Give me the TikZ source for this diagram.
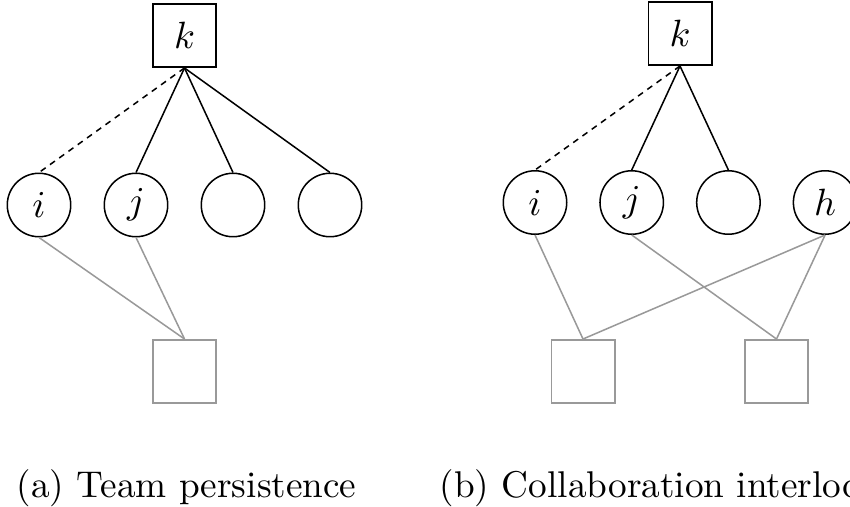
\documentclass[tikz,border=0pt]{standalone}
\usepackage{amsmath,amsfonts,amssymb}
\usepackage{tikz}

\begin{document}
\begin{tikzpicture}[x=0.2632pt,y=-0.2632pt,
  agent/.style={draw,circle,thin,minimum size=16.7pt,inner sep=0pt},
  team/.style={draw,rectangle,thin,minimum size=16.7pt,inner sep=0pt},
  proj/.style={draw=gray!80,rectangle,thin,minimum size=16.7pt,inner sep=0pt},
  tie/.style={gray!80,thin},
  gone/.style={thin,dash pattern=on 1.6pt off 1.4pt},
  caption/.style={anchor=base west,inner sep=0pt,font=\fontsize{9.8pt}{12pt}\selectfont}]
  \clip (0,0) rectangle (850,506);
% (a) team persistence
  \node[team] (ka) at (184.5,35.5) {$k$};
  \foreach \n/\lab in {0/i,1/j,2/,3/}{% members of team k
    \node[agent] (a\n) at (39+97*\n,205) {$\lab$};
  }
  \node[proj] (pa) at (184.5,371.5) {};
  \draw[gone] (ka.south) -- (a0.north);
  \foreach \n in {1,2,3}
    \draw[thin] (ka.south) -- (a\n.north);
  \draw[tie] (a0.south) -- (pa.north);
  \draw[tie] (a1.south) -- (pa.north);
  \node[caption] (capa) at (16,497) {(a) Team persistence};
% (b) collaboration interlock
  \node[team] (kb) at (680,33.5) {$k$};
  \foreach \n/\lab in {0/i,1/j,2/,3/h}{%
    \node[agent] (b\n) at (535+96.7*\n,202.5) {$\lab$};
  }
  \node[proj] (pb) at (583,371.5) {};
  \node[proj] (qb) at (776.5,371.5) {};
  \draw[gone] (kb.south) -- (b0.north);
  \foreach \n in {1,2}
    \draw[thin] (kb.south) -- (b\n.north);
  \draw[tie] (b0.south) -- (pb.north);
  \draw[tie] (b3.south) -- (pb.north);
  \draw[tie] (b1.south) -- (qb.north);
  \draw[tie] (b3.south) -- (qb.north);
  \node[caption] (capb) at (439,497) {(b) Collaboration interlock};
\end{tikzpicture}
\end{document}
